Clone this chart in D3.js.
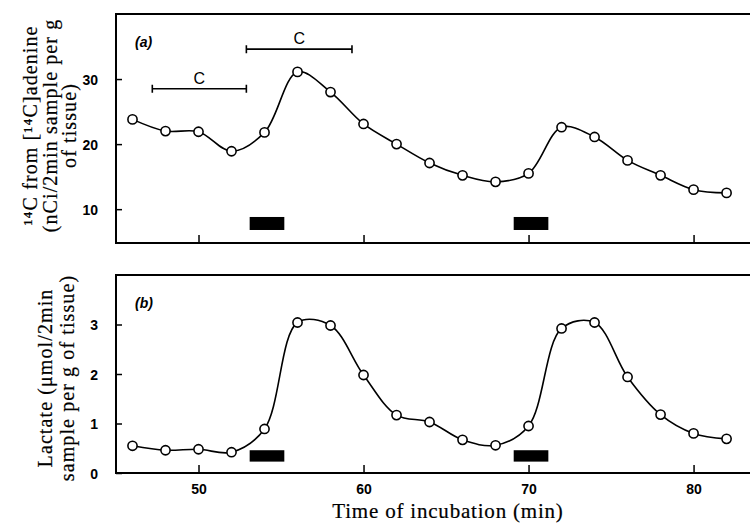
<!DOCTYPE html>
<html>
<head>
<meta charset="utf-8">
<script src="https://cdn.jsdelivr.net/npm/d3@7"></script>
<style>
  body { margin: 0; background: #fff; }
  svg { display: block; }
  .tick text { font-family: "Liberation Sans", Arial, sans-serif; font-weight: bold; font-size: 14px; fill: #000; }
  .title { font-family: "Liberation Serif", "Times New Roman", serif; font-size: 20px; fill: #000;
           stroke: #000; stroke-width: 0.2px; letter-spacing: 1.1px; }
</style>
</head>
<body>
<div id="chart"></div>
<script>
// sample times (min)
const times = [46, 48, 50, 52, 54, 56, 58, 60, 62, 64, 66, 68, 70, 72, 74, 76, 78, 80, 82];
// (a) 14C from [14C]adenine, nCi/2min sample per g tissue
const adenine = [23.8, 22.0, 21.9, 18.9, 21.8, 31.1, 28.0, 23.1, 20.0, 17.1, 15.2, 14.2, 15.5, 22.6, 21.1, 17.5, 15.2, 13.0, 12.5];
// (b) lactate, umol/2min sample per g tissue
const lactate = [0.55, 0.46, 0.48, 0.42, 0.89, 3.04, 2.98, 1.98, 1.17, 1.03, 0.67, 0.56, 0.95, 2.92, 3.04, 1.94, 1.18, 0.80, 0.69];
// stimulation periods (black bars)
const stim = [[53.1, 55.2], [69.1, 71.2]];
// control periods (C brackets) in panel a: start, end, level
const controls = [[47.2, 52.9, 28.5], [52.9, 59.3, 34.6]];
const xTicks = [50, 60, 70, 80];
const yTicksA = [10, 20, 30];
const yTicksB = [0, 1, 2, 3];

const W = 750, H = 525;
const svg = d3.select("#chart").append("svg")
    .attr("width", W).attr("height", H);

const x = d3.scaleLinear().domain([45, 83.42]).range([116, 750]);
const yA = d3.scaleLinear().domain([4.8, 40]).range([243, 14]);
const yB = d3.scaleLinear().domain([0, 4]).range([473, 275]);

const line = y => d3.line()
    .x((d, i) => x(times[i]))
    .y(d => y(d))
    .curve(d3.curveCatmullRom.alpha(0.5));

function panel(y, vals, yTicks, label, barLo, barHi, showXLabels) {
    const g = svg.append("g");
    const [y0, y1] = y.range();
    // frame: top, left, bottom (right edge runs off the page)
    g.append("path")
        .attr("d", `M${W},${y1}H${x.range()[0]}V${y0}H${W}`)
        .attr("fill", "none").attr("stroke", "#000").attr("stroke-width", 2);

    // y axis, ticks pointing inward
    g.append("g")
        .attr("transform", `translate(${x.range()[0]},0)`)
        .call(d3.axisRight(y).tickValues(yTicks).tickSize(6).tickFormat(""))
        .call(a => a.select(".domain").remove())
        .call(a => a.selectAll("line").attr("stroke-width", 1.5));
    g.append("g")
        .attr("transform", `translate(${x.range()[0] - 15},0)`)
        .call(d3.axisLeft(y).tickValues(yTicks).tickSize(0).tickFormat(d3.format("d")))
        .call(a => a.select(".domain").remove())
        .call(a => a.selectAll("text").attr("dy", "0.36em"));

    // x axis, ticks pointing inward
    g.append("g")
        .attr("transform", `translate(0,${y0})`)
        .call(d3.axisTop(x).tickValues(xTicks).tickSize(8).tickFormat(""))
        .call(a => a.select(".domain").remove())
        .call(a => a.selectAll("line").attr("stroke-width", 1.5));
    if (showXLabels) {
        g.append("g")
            .attr("transform", `translate(0,${y0 + 8})`)
            .call(d3.axisBottom(x).tickValues(xTicks).tickSize(0).tickFormat(d3.format("d")))
            .call(a => a.select(".domain").remove());
    }

    // stimulation bars
    g.selectAll(".stim").data(stim).enter().append("rect")
        .attr("x", d => x(d[0]))
        .attr("width", d => x(d[1]) - x(d[0]))
        .attr("y", y(barHi))
        .attr("height", y(barLo) - y(barHi))
        .attr("fill", "#000");

    // curve and points
    g.append("path").datum(vals)
        .attr("d", line(y))
        .attr("fill", "none").attr("stroke", "#000").attr("stroke-width", 1.6);
    g.selectAll("circle").data(vals).enter().append("circle")
        .attr("cx", (d, i) => x(times[i]))
        .attr("cy", d => y(d))
        .attr("r", 4.6)
        .attr("fill", "#fff").attr("stroke", "#000").attr("stroke-width", 1.6);

    g.append("text")
        .attr("x", 135).attr("y", y1 + 33)
        .style("font-family", "'Liberation Sans', Arial, sans-serif")
        .style("font-style", "italic").style("font-weight", "bold")
        .style("font-size", "14px")
        .text(label);
    return g;
}

const gA = panel(yA, adenine, yTicksA, "(a)", 6.8, 8.8, false);
const gB = panel(yB, lactate, yTicksB, "(b)", 0.23, 0.46, true);

// control brackets in panel a
controls.forEach(c => {
    const yy = yA(c[2]);
    gA.append("path")
        .attr("d", `M${x(c[0])},${yy - 4}V${yy + 4}M${x(c[0])},${yy}H${x(c[1])}M${x(c[1])},${yy - 4}V${yy + 4}`)
        .attr("fill", "none").attr("stroke", "#000").attr("stroke-width", 1.6);
    gA.append("text")
        .attr("x", x((c[0] + c[1]) / 2)).attr("y", yy - 5)
        .attr("text-anchor", "middle")
        .style("font-family", "'Liberation Sans', Arial, sans-serif")
        .style("font-size", "16px")
        .text("C");
});

// axis titles
svg.append("text").attr("class", "title")
    .attr("x", 448).attr("y", 518)
    .attr("text-anchor", "middle")
    .style("font-size", "21px").style("letter-spacing", "0.8px")
    .text("Time of incubation (min)");

const titleA = ["¹⁴C from [¹⁴C]adenine", "(nCi/2min sample per g", "of tissue)"];
const titleB = ["Lactate (μmol/2min", "sample per g of tissue)"];
titleA.forEach((t, i) => {
    svg.append("text").attr("class", "title")
        .attr("transform", `translate(${37 + i * 19.5},${(yA.range()[0] + yA.range()[1]) / 2 - 3}) rotate(-90)`)
        .attr("text-anchor", "middle")
        .text(t);
});
titleB.forEach((t, i) => {
    svg.append("text").attr("class", "title")
        .attr("transform", `translate(${52 + i * 22},${(yB.range()[0] + yB.range()[1]) / 2 + 4}) rotate(-90)`)
        .attr("text-anchor", "middle")
        .text(t);
});
</script>
</body>
</html>
